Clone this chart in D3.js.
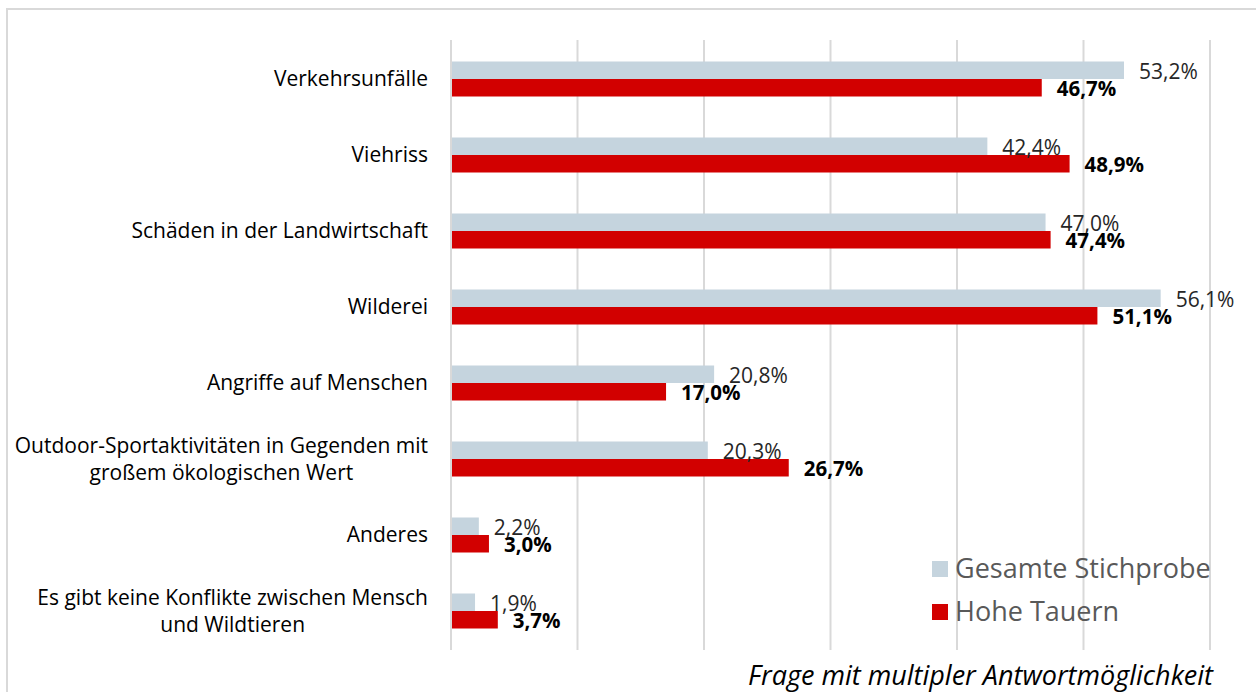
<!DOCTYPE html>
<html>
<head>
<meta charset="utf-8">
<script src="https://cdn.jsdelivr.net/npm/d3@7"></script>
<style>
  body { margin: 0; background: #fff; }
  svg { display: block; }
</style>
</head>
<body>
<div id="chart"></div>
<script>
// chart data
var categories = [
  ["Verkehrsunfälle"],
  ["Viehriss"],
  ["Schäden in der Landwirtschaft"],
  ["Wilderei"],
  ["Angriffe auf Menschen"],
  ["Outdoor-Sportaktivitäten in Gegenden mit", "großem ökologischen Wert"],
  ["Anderes"],
  ["Es gibt keine Konflikte zwischen Mensch", "und Wildtieren"]
];
var gesamt = [53.2, 42.4, 47.0, 56.1, 20.8, 20.3, 2.2, 1.9];
var hoheTauern = [46.7, 48.9, 47.4, 51.1, 17.0, 26.7, 3.0, 3.7];
var seriesNames = ["Gesamte Stichprobe", "Hohe Tauern"];
var xTicks = [0, 10, 20, 30, 40, 50, 60];

var svgWidth = 1256;
var svgHeight = 692;
var font = "'Open Sans', sans-serif";
var grey = "#c5d4de";
var red = "#d20000";

var svg = d3.select("#chart")
  .append("svg")
  .attr("width", svgWidth)
  .attr("height", svgHeight);

// outer frame (top + left edge visible)
svg.append("path")
  .attr("d", "M7,692 L7,9 L1256,9")
  .attr("fill", "none")
  .attr("stroke", "#d9d9d9")
  .attr("stroke-width", 2);

var xScale = d3.scaleLinear()
  .domain([0, 60])
  .range([451, 1210]);

var yScale = d3.scaleBand()
  .domain(d3.range(categories.length))
  .range([41, 649])
  .padding(0);

var barH = 17.5;

// gridlines
svg.append("g")
  .selectAll("line")
  .data(xTicks)
  .enter()
  .append("line")
  .attr("x1", d => xScale(d))
  .attr("x2", d => xScale(d))
  .attr("y1", 40)
  .attr("y2", 650)
  .attr("stroke", "#d9d9d9")
  .attr("stroke-width", 2);

var rows = categories.map(function(c, i) {
  return { label: c, g: gesamt[i], h: hoheTauern[i], i: i };
});

function mid(i) { return yScale(i) + yScale.bandwidth() / 2; }

// bars
svg.append("g").selectAll("rect")
  .data(rows).enter().append("rect")
  .attr("x", xScale(0) + 1)
  .attr("y", d => mid(d.i) - barH)
  .attr("width", d => xScale(d.g) - xScale(0) - 1)
  .attr("height", barH)
  .attr("fill", grey);

svg.append("g").selectAll("rect")
  .data(rows).enter().append("rect")
  .attr("x", xScale(0) + 1)
  .attr("y", d => mid(d.i))
  .attr("width", d => xScale(d.h) - xScale(0) - 1)
  .attr("height", barH)
  .attr("fill", red);

var fmt = v => v.toFixed(1).replace(".", ",") + "%";

// value labels
svg.append("g").selectAll("text")
  .data(rows).enter().append("text")
  .attr("x", d => xScale(d.g) + 15)
  .attr("y", d => mid(d.i) - 0.5)
  .attr("font-family", font)
  .attr("font-size", "21px")
  .attr("fill", "#262626")
  .text(d => fmt(d.g));

svg.append("g").selectAll("text")
  .data(rows).enter().append("text")
  .attr("x", d => xScale(d.h) + 15)
  .attr("y", d => mid(d.i) + 17)
  .attr("font-family", font)
  .attr("font-size", "20.5px")
  .attr("font-weight", "bold")
  .attr("fill", "#000")
  .text(d => fmt(d.h));

// category labels (multi-line centered in a right-aligned block)
var labelRight = 428;
var lineH = 27;
var labelG = svg.append("g");
rows.forEach(function(d) {
  var t = labelG.append("text")
    .attr("font-family", font)
    .attr("font-size", "21px")
    .attr("fill", "#000");
  var n = d.label.length;
  d.label.forEach(function(line, k) {
    t.append("tspan")
      .attr("y", mid(d.i) + (k - (n - 1) / 2) * lineH)
      .attr("dy", "0.35em")
      .text(line);
  });
  var w = 0;
  t.selectAll("tspan").each(function() {
    w = Math.max(w, this.getComputedTextLength());
  });
  t.attr("text-anchor", "middle");
  t.selectAll("tspan").attr("x", labelRight - w / 2);
});

// legend
var legend = svg.append("g");
[grey, red].forEach(function(col, k) {
  var y = 569 + k * 43;
  legend.append("rect")
    .attr("x", 932)
    .attr("y", y - 8)
    .attr("width", 16)
    .attr("height", 16)
    .attr("fill", col);
  legend.append("text")
    .attr("x", 955)
    .attr("y", y)
    .attr("dy", "0.35em")
    .attr("font-family", font)
    .attr("font-size", "27px")
    .attr("fill", "#595959")
    .text(seriesNames[k]);
});

// footnote
svg.append("text")
  .attr("x", 1213)
  .attr("y", 685)
  .attr("text-anchor", "end")
  .attr("font-family", font)
  .attr("font-size", "27px")
  .attr("font-style", "italic")
  .attr("fill", "#000")
  .text("Frage mit multipler Antwortmöglichkeit");
</script>
</body>
</html>
